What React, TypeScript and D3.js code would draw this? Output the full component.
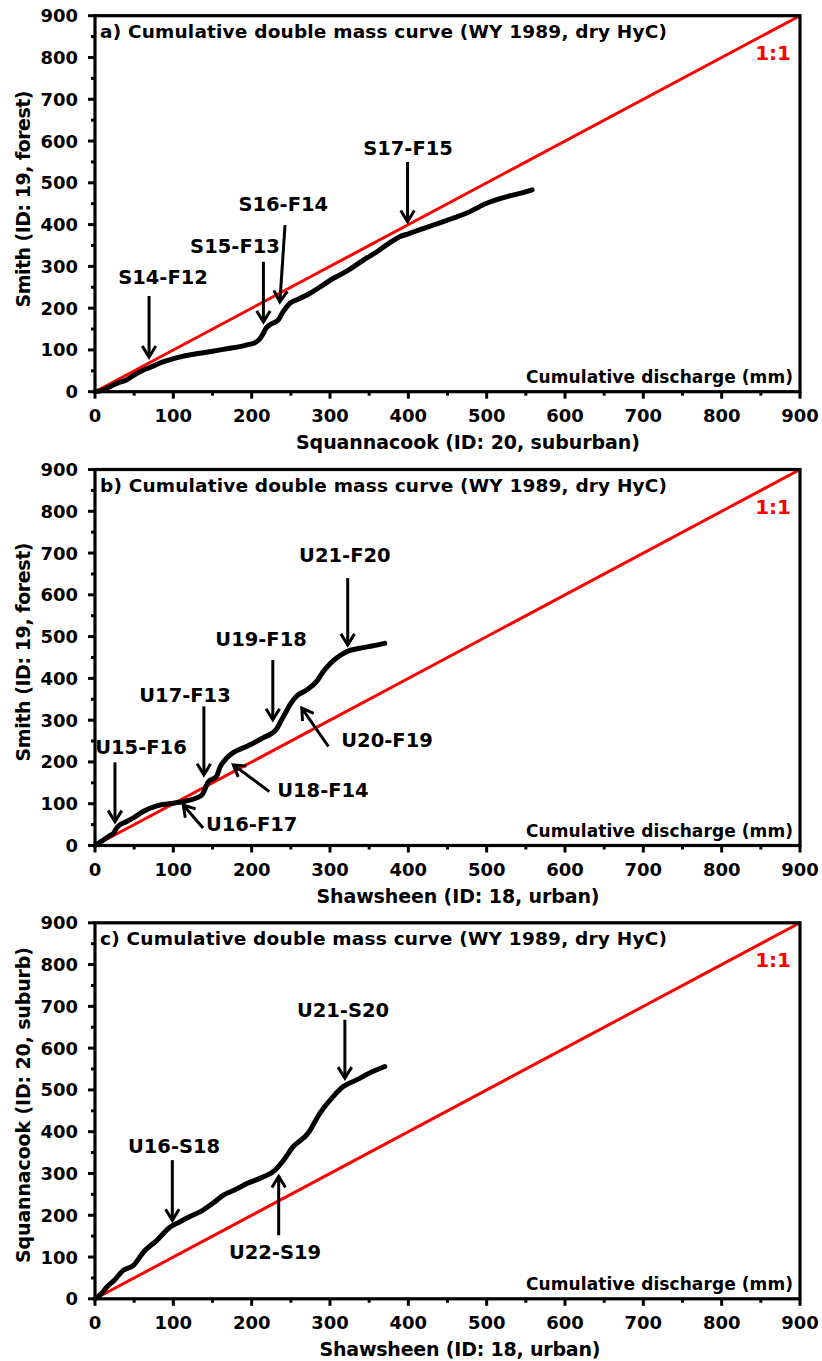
import React from "react";
import * as d3 from "d3";

// ---------- Data ----------
const AXIS_TICKS = [0, 100, 200, 300, 400, 500, 600, 700, 800, 900];
const MINOR_TICKS = [50, 150, 250, 350, 450, 550, 650, 750, 850];

// Panel a: Squannacook (x) vs Smith (y)
const A_X = [0, 10, 19, 28, 40, 50, 62, 70, 85, 100, 115, 134, 150, 172, 185, 194, 205, 211, 215, 217, 223, 234, 240, 249, 260, 274, 290, 304, 318, 330, 345, 360, 375, 389, 400, 415, 432, 455, 474, 500, 526, 545, 558];
const A_Y = [0, 4, 12, 20, 28, 40, 52, 58, 70, 79, 86, 92, 97, 104, 108, 112, 118, 128, 140, 148, 160, 172, 191, 212, 222, 235, 254, 271, 285, 299, 318, 335, 355, 371, 378, 388, 399, 414, 427, 451, 467, 476, 483];

// Panel b: Shawsheen (x) vs Smith (y)
const B_X = [0, 8, 19, 24, 27, 32, 40, 49, 62, 79, 100, 115, 130, 137, 141, 145, 155, 160, 168, 198, 215, 231, 238, 245, 250, 257, 270, 283, 291, 300, 308, 321, 338, 355, 370];
const B_Y = [0, 10, 24, 30, 40, 50, 57, 66, 82, 95, 101, 106, 114, 122, 138, 153, 165, 189, 209, 241, 258, 277, 300, 324, 340, 357, 372, 393, 415, 435, 448, 464, 472, 478, 484];

// Panel c: Shawsheen (x) vs Squannacook (y)
const C_X = [0, 8, 15, 25, 36, 49, 62, 79, 96, 108, 120, 134, 150, 164, 180, 194, 215, 230, 240, 253, 272, 287, 304, 317, 334, 350, 370];
const C_Y = [0, 12, 28, 45, 68, 80, 112, 140, 172, 184, 196, 208, 228, 248, 262, 276, 292, 308, 330, 364, 396, 444, 484, 508, 524, 540, 556];

// Annotations: label, label centre, arrow tail, arrow head (data units)
const A_NOTES = [
  { label: "S14-F12", lx: 86.8, ly: 274, tx: 69, ty: 229, hx: 69, hy: 83 },
  { label: "S15-F13", lx: 178.7, ly: 347, tx: 215, ty: 311, hx: 215, hy: 167 },
  { label: "S16-F14", lx: 240.4, ly: 449, tx: 242.6, ty: 399, hx: 236, hy: 215 },
  { label: "S17-F15", lx: 399.6, ly: 581, tx: 399, ty: 550, hx: 399, hy: 407 },
];
const B_NOTES = [
  { label: "U15-F16", lx: 58.7, ly: 235.5, tx: 25.5, ty: 199, hx: 25.5, hy: 57 },
  { label: "U16-F17", lx: 200, ly: 49.5, tx: 138, ty: 42, hx: 112.6, hy: 97 },
  { label: "U17-F13", lx: 114.9, ly: 358, tx: 139, ty: 333, hx: 139, hy: 169 },
  { label: "U18-F14", lx: 291, ly: 131.6, tx: 222.6, ty: 129, hx: 176.6, hy: 193 },
  { label: "U19-F18", lx: 212, ly: 492, tx: 227, ty: 444, hx: 227, hy: 301 },
  { label: "U20-F19", lx: 372.8, ly: 250.6, tx: 298, ty: 237, hx: 264, hy: 329 },
  { label: "U21-F20", lx: 319, ly: 693, tx: 322.6, ty: 640, hx: 322.6, hy: 480 },
];
const C_NOTES = [
  { label: "U16-S18", lx: 100.9, ly: 363.8, tx: 98.7, ty: 332, hx: 98.7, hy: 188 },
  { label: "U22-S19", lx: 229.8, ly: 110.6, tx: 234.5, ty: 152, hx: 234.5, hy: 293 },
  { label: "U21-S20", lx: 316.6, ly: 690.5, tx: 319, ty: 668, hx: 319, hy: 528 },
];

const PANEL_TITLES = [
  "a) Cumulative double mass curve (WY 1989, dry HyC)",
  "b) Cumulative double mass curve (WY 1989, dry HyC)",
  "c) Cumulative double mass curve (WY 1989, dry HyC)",
];
const X_LABELS = ["Squannacook (ID: 20, suburban)", "Shawsheen (ID: 18, urban)", "Shawsheen (ID: 18, urban)"];
const Y_LABELS = ["Smith (ID: 19, forest)", "Smith (ID: 19, forest)", "Squannacook (ID: 20, suburb)"];

// ---------- Layout ----------
const W = 822;
const H = 1361;
const LEFT = 95;
const RIGHT = 800;
const PH = 376;
const FONT = "'DejaVu Sans', sans-serif";

const PANELS = [
  { top: 15.7, xs: A_X, ys: A_Y, notes: A_NOTES, xlc: 468, xlw: 344, ylc: 199, ylw: 217 },
  { top: 469.5, xs: B_X, ys: B_Y, notes: B_NOTES, xlc: 458, xlw: 283, ylc: 652, ylw: 219 },
  { top: 922.8, xs: C_X, ys: C_Y, notes: C_NOTES, xlc: 460, xlw: 281, ylc: 1105, ylw: 316 },
];

function Arrow({ x1, y1, x2, y2 }: { x1: number; y1: number; x2: number; y2: number }) {
  const ang = Math.atan2(y2 - y1, x2 - x1);
  const len = 13;
  const spread = 0.55;
  const ax = x2 - len * Math.cos(ang - spread);
  const ay = y2 - len * Math.sin(ang - spread);
  const bx = x2 - len * Math.cos(ang + spread);
  const by = y2 - len * Math.sin(ang + spread);
  return (
    <g stroke="#000" strokeWidth={3} fill="none" strokeLinecap="butt">
      <line x1={x1} y1={y1} x2={x2} y2={y2} />
      <polyline points={`${ax},${ay} ${x2},${y2} ${bx},${by}`} strokeLinejoin="miter" />
    </g>
  );
}

function Panel({ idx }: { idx: number }) {
  const p = PANELS[idx];
  const x = d3.scaleLinear().domain([0, 900]).range([LEFT, RIGHT]);
  const y = d3.scaleLinear().domain([0, 900]).range([p.top + PH, p.top]);
  const bottom = p.top + PH;
  const pts: [number, number][] = p.xs.map((v, i) => [v, p.ys[i]]);
  const line = d3
    .line<[number, number]>()
    .x((d) => x(d[0]))
    .y((d) => y(d[1]))
    .curve(d3.curveMonotoneX);

  return (
    <g fontFamily={FONT} fontWeight="bold">
      {/* 1:1 line */}
      <line x1={x(0)} y1={y(0)} x2={x(900)} y2={y(900)} stroke="#ff0000" strokeWidth={3} />
      {/* curve */}
      <path d={line(pts) || ""} fill="none" stroke="#000" strokeWidth={5} strokeLinejoin="round" strokeLinecap="round" />
      {/* frame */}
      <rect x={LEFT} y={p.top} width={RIGHT - LEFT} height={PH} fill="none" stroke="#000" strokeWidth={3.2} />
      {/* x ticks */}
      {AXIS_TICKS.map((t) => (
        <g key={"xt" + t}>
          <line x1={x(t)} x2={x(t)} y1={bottom} y2={bottom + 7} stroke="#000" strokeWidth={3} />
          <text x={x(t)} y={bottom + 24} fontSize={18} textAnchor="middle" dominantBaseline="central" fill="#000">
            {t}
          </text>
        </g>
      ))}
      {MINOR_TICKS.map((t) => (
        <line key={"xm" + t} x1={x(t)} x2={x(t)} y1={bottom} y2={bottom + 4} stroke="#000" strokeWidth={3} />
      ))}
      {/* y ticks */}
      {AXIS_TICKS.map((t) => (
        <g key={"yt" + t}>
          <line x1={LEFT - 7} x2={LEFT} y1={y(t)} y2={y(t)} stroke="#000" strokeWidth={3} />
          <text x={78} y={y(t)} fontSize={18} textAnchor="end" dominantBaseline="central" fill="#000">
            {t}
          </text>
        </g>
      ))}
      {MINOR_TICKS.map((t) => (
        <line key={"ym" + t} x1={LEFT - 4} x2={LEFT} y1={y(t)} y2={y(t)} stroke="#000" strokeWidth={3} />
      ))}
      {/* title */}
      <text x={100} y={p.top + 16} fontSize={18.5} dominantBaseline="central" textLength={567} lengthAdjust="spacing" fill="#000">
        {PANEL_TITLES[idx]}
      </text>
      {/* 1:1 */}
      <text x={791} y={p.top + 37} fontSize={20} textAnchor="end" dominantBaseline="central" fill="#ff0000">
        1:1
      </text>
      {/* cumulative discharge */}
      <text x={793} y={p.top + 361} fontSize={17} textAnchor="end" dominantBaseline="central" textLength={267} lengthAdjust="spacing" fill="#000">
        Cumulative discharge (mm)
      </text>
      {/* axis labels */}
      <text x={p.xlc} y={bottom + 50} fontSize={19} textAnchor="middle" dominantBaseline="central" textLength={p.xlw} lengthAdjust="spacing" fill="#000">
        {X_LABELS[idx]}
      </text>
      <text
        transform={`translate(23,${p.ylc}) rotate(-90)`}
        fontSize={19}
        textAnchor="middle"
        dominantBaseline="central"
        textLength={p.ylw}
        lengthAdjust="spacing"
        fill="#000"
      >
        {Y_LABELS[idx]}
      </text>
      {/* annotations */}
      {p.notes.map((n) => (
        <g key={n.label}>
          <text x={x(n.lx)} y={y(n.ly)} fontSize={19.5} textAnchor="middle" dominantBaseline="central" fill="#000">
            {n.label}
          </text>
          <Arrow x1={x(n.tx)} y1={y(n.ty)} x2={x(n.hx)} y2={y(n.hy)} />
        </g>
      ))}
    </g>
  );
}

export default function App() {
  return (
    <svg width={W} height={H} viewBox={`0 0 ${W} ${H}`} style={{ display: "block", position: "absolute", left: 0, top: 0, background: "#fff" }}>
      <rect x={0} y={0} width={W} height={H} fill="#fff" />
      <Panel idx={0} />
      <Panel idx={1} />
      <Panel idx={2} />
    </svg>
  );
}
